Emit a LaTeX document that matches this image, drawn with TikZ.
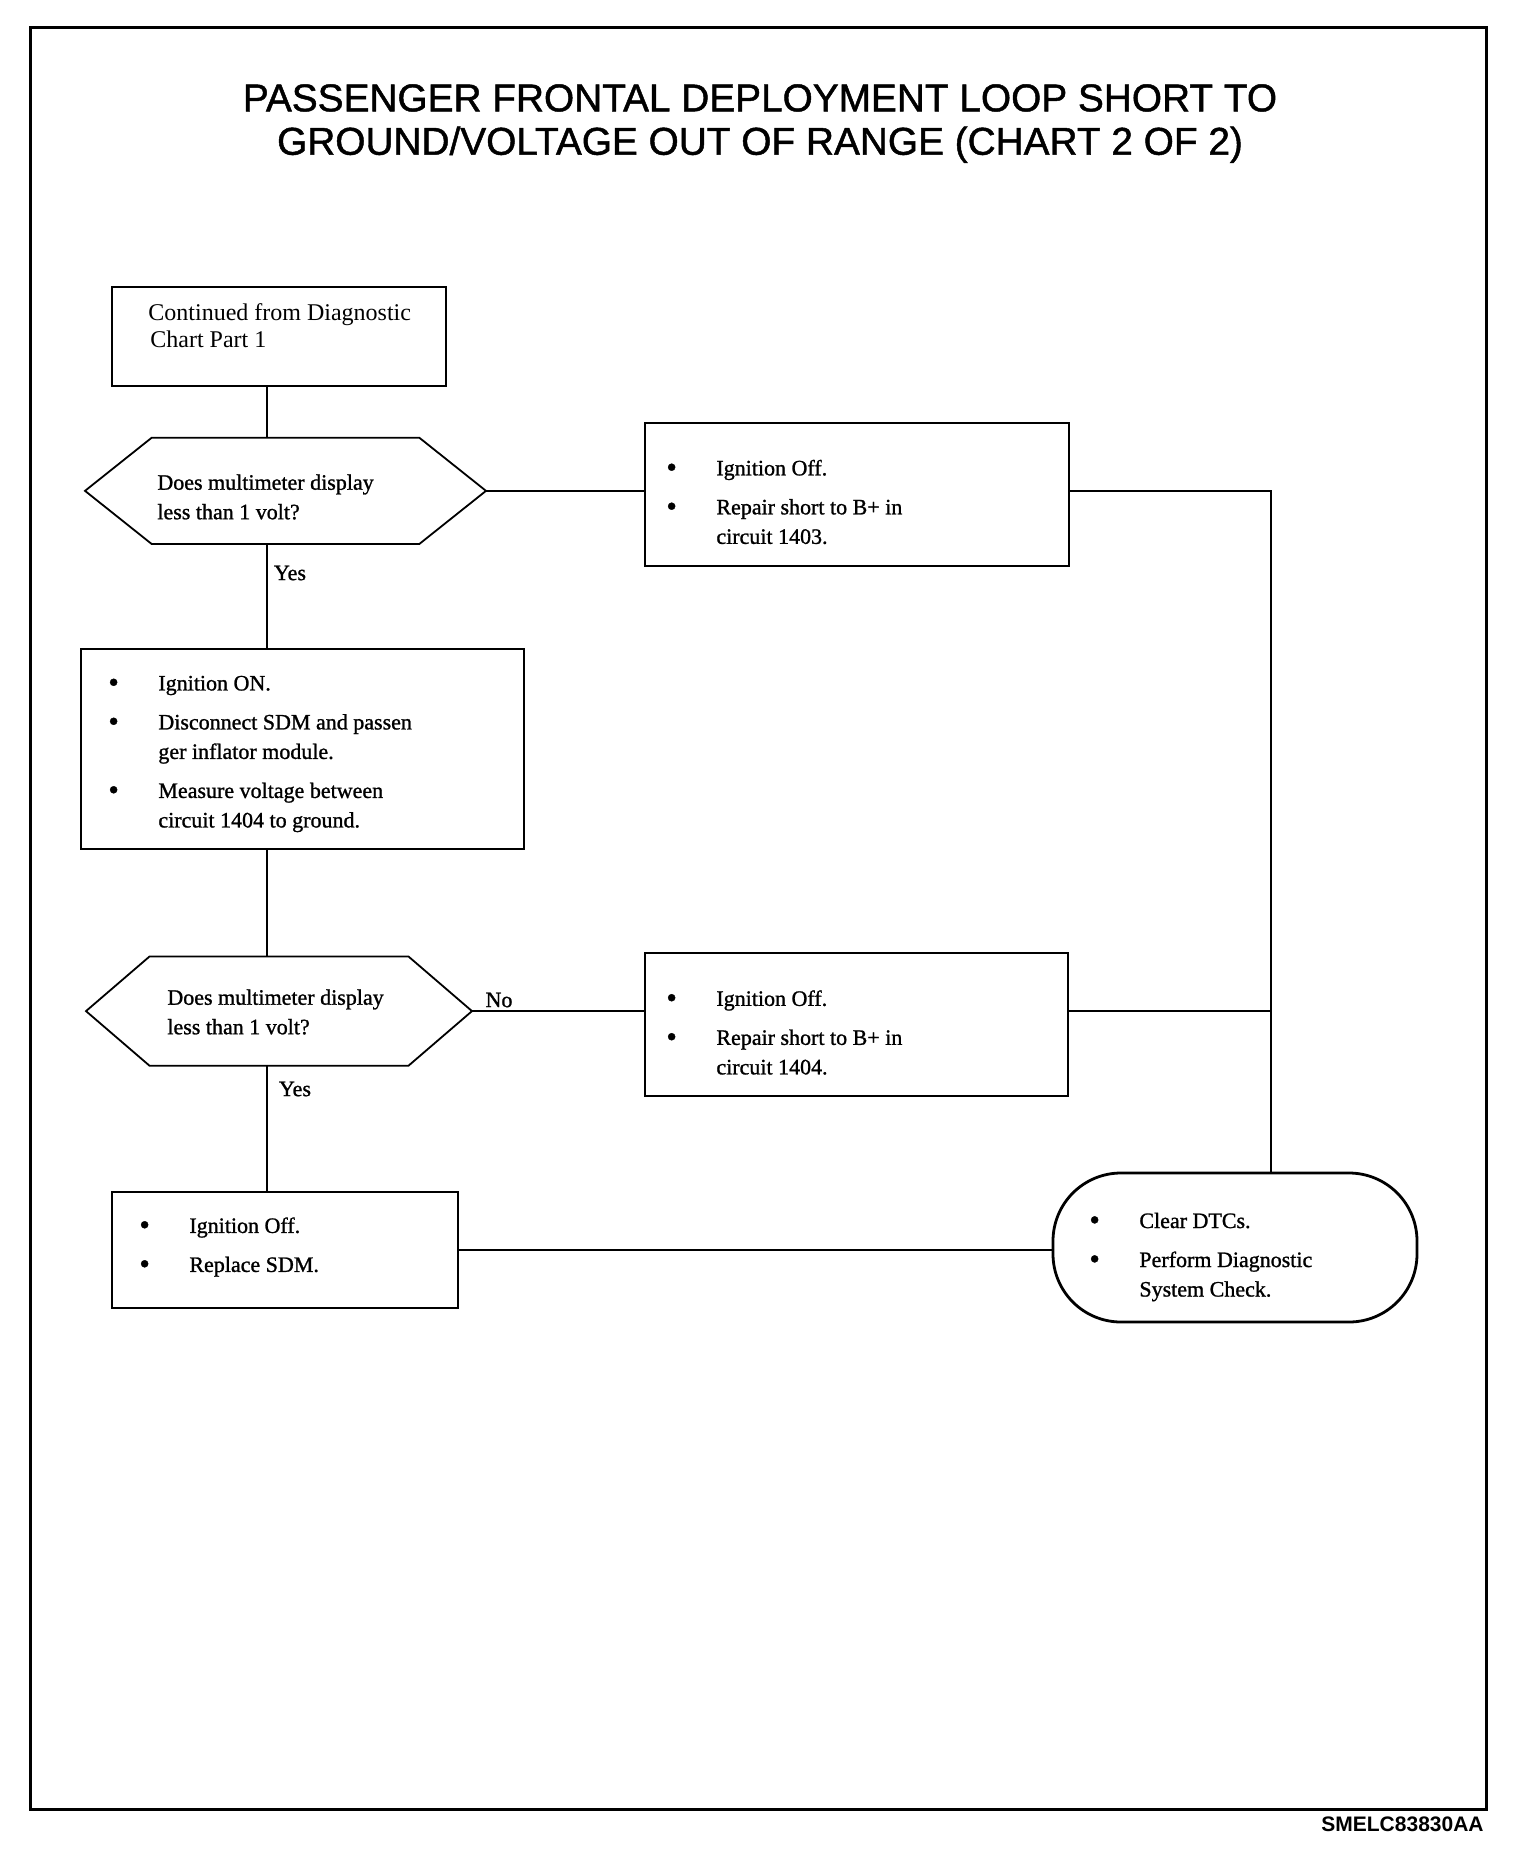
\documentclass[tikz,border=0pt]{standalone}
\usepackage{fontspec}
\setmainfont{Liberation Serif}
\newfontfamily\thk[FakeBold=1.1]{Liberation Serif}
\newfontfamily\titlef[FakeBold=1.2]{Liberation Sans}
\newfontfamily\codef{Liberation Sans}
\newcommand{\bitem}[1]{\makebox[25pt][l]{\raisebox{-0.9pt}{\fontsize{15pt}{15pt}\selectfont\textbullet}}#1}
\newcommand{\cont}{\hspace*{25pt}}
\begin{document}
\begin{tikzpicture}[x=0.5pt,y=-0.5pt,
  box/.style={draw, line width=1pt, inner sep=0pt, outer sep=0pt},
  hexbox/.style={inner sep=0pt, outer sep=0pt},
  txt/.style={anchor=west, inner sep=0pt, align=left, font=\thk\fontsize{11pt}{14.75pt}\selectfont},
  lbl/.style={inner sep=0pt, font=\thk\fontsize{11pt}{13pt}\selectfont},
  conn/.style={line width=0.75pt},
  hexline/.style={line width=0.9pt, line join=miter}]

\fill[white] (0,0) rectangle (1536,1852);
\useasboundingbox (0,0) rectangle (1536,1852);
\draw[line width=1.5pt] (30,27) rectangle (1486,1809);

\node[inner sep=0pt, align=center, font=\titlef\fontsize{19.4pt}{21.7pt}\selectfont] (title) at (760,123.5)
  {PASSENGER FRONTAL DEPLOYMENT LOOP SHORT TO\\GROUND/VOLTAGE OUT OF RANGE (CHART 2 OF 2)};

% shapes
\node[box, minimum width=167pt, minimum height=49.5pt] (start) at (278.7,336.2) {};
\node[hexbox, minimum width=200.5pt, minimum height=53.15pt] (q1) at (285.5,490.85) {};
\draw[hexline] (q1.west) -- ([xshift=33.35pt]q1.north west) -- ([xshift=-33.35pt]q1.north east)
  -- (q1.east) -- ([xshift=-33.35pt]q1.south east) -- ([xshift=33.35pt]q1.south west) -- cycle;
\node[box, minimum width=212pt, minimum height=71.5pt] (a1) at (857,494.5) {};
\node[box, minimum width=221.8pt, minimum height=100pt] (a2) at (302.5,749.3) {};
\node[hexbox, minimum width=193pt, minimum height=54.6pt] (q2) at (279,1011.1) {};
\draw[hexline] (q2.west) -- ([xshift=31.75pt]q2.north west) -- ([xshift=-31.75pt]q2.north east)
  -- (q2.east) -- ([xshift=-31.75pt]q2.south east) -- ([xshift=31.75pt]q2.south west) -- cycle;
\node[box, minimum width=211.5pt, minimum height=71.25pt] (a3) at (856.5,1024.25) {};
\node[box, minimum width=173pt, minimum height=58.15pt] (a4) at (284.7,1249.85) {};
\node[box, line width=1.4pt, rounded corners=34pt, minimum width=182pt, minimum height=74.5pt] (term) at (1235,1247.5) {};

% texts
\node[txt, font=\fontsize{12pt}{13.5pt}\selectfont] (starttxt) at (148,325.5)
  {Continued from Diagnostic\\\hspace*{1pt}Chart Part 1};
\node[txt] (q1txt) at (157,497) {Does multimeter display\\less than 1 volt?};
\node[txt] (a1txt) at (666,502) {\bitem{Ignition Off.}\\[4.75pt]\bitem{Repair short to B+ in}\\\cont circuit 1403.};
\node[txt] (a2txt) at (108,754) {\bitem{Ignition ON.}\\[4.75pt]\bitem{Disconnect SDM and passen}\\\cont ger inflator module.\\[4.75pt]\bitem{Measure voltage between}\\\cont circuit 1404 to ground.};
\node[txt] (q2txt) at (167,1012) {Does multimeter display\\less than 1 volt?};
\node[txt] (a3txt) at (666,1032.5) {\bitem{Ignition Off.}\\[4.75pt]\bitem{Repair short to B+ in}\\\cont circuit 1404.};
\node[txt] (a4txt) at (139,1247) {\bitem{Ignition Off.}\\[4.75pt]\bitem{Replace SDM.}};
\node[txt] (termtxt) at (1089,1257) {\bitem{Clear DTCs.}\\[4.75pt]\bitem{Perform Diagnostic}\\\cont System Check.};

% labels
\node[lbl] (yes1) at (290,573) {Yes};
\node[lbl] (no2) at (499,1000) {No};
\node[lbl] (yes2) at (295,1089) {Yes};

% connectors
\coordinate (spine) at (267,0);
\coordinate (rail) at (1271,0);
\draw[conn] (start.south -| spine) -- (q1.north -| spine);
\draw[conn] (q1.south -| spine) -- (a2.north -| spine);
\draw[conn] (a2.south -| spine) -- (q2.north -| spine);
\draw[conn] (q2.south -| spine) -- (a4.north -| spine);
\draw[conn] (q1.east) -- (q1.east -| a1.west);
\draw[conn] (q1.east -| a1.east) -- (q1.east -| rail) -- (term.north -| rail);
\draw[conn] (q2.east) -- (q2.east -| a3.west);
\draw[conn] (q2.east -| a3.east) -- (q2.east -| rail);
\draw[conn] (a4.east) -- (a4.east -| term.west);

\node[inner sep=0pt, font=\codef\bfseries\fontsize{10.5pt}{12pt}\selectfont] (code) at (1402.5,1824) {SMELC83830AA};
\end{tikzpicture}
\end{document}
